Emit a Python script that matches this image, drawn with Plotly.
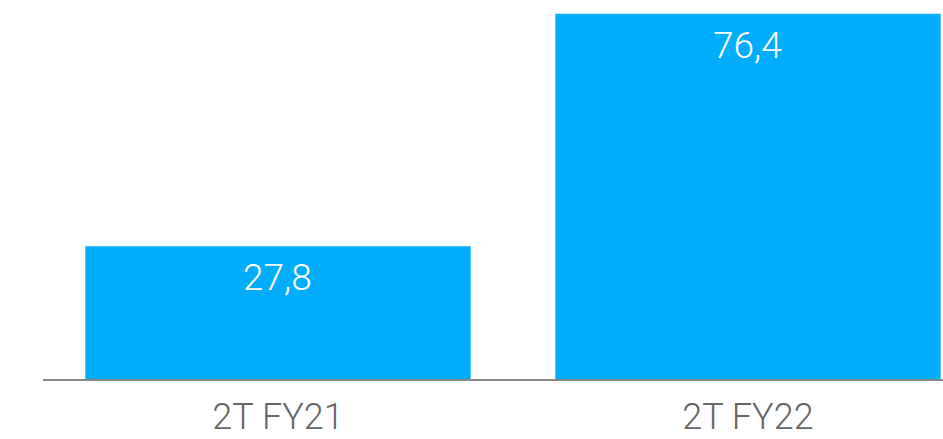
import plotly.graph_objects as go

periods = ["2T FY21", "2T FY22"]
values = [27.8, 76.4]
value_labels = ["27,8", "76,4"]

fig = go.Figure(go.Bar(
    x=periods, y=values,
    marker=dict(color="#02ADFC", line=dict(width=0)),
    hoverinfo="skip",
))

# value labels sit inside the top of each bar
for p, v, lab in zip(periods, values, value_labels):
    fig.add_annotation(x=p, y=v, text=lab, showarrow=False,
                       yanchor="top", yshift=-8,
                       font=dict(family="Roboto", size=37, color="white", weight=300))

fig.update_layout(
    width=943, height=439,
    margin=dict(l=43, r=0, t=0, b=60),
    paper_bgcolor="white", plot_bgcolor="white",
    bargap=0.18,
    showlegend=False,
    font=dict(family="Roboto"),
)
fig.update_xaxes(
    range=[-0.5, 1.415],
    showline=True, linecolor="#888888", linewidth=2,
    showgrid=False, ticks="", ticklabelstandoff=5,
    tickfont=dict(family="Roboto", size=36, color="#666666", weight=300),
)
fig.update_yaxes(range=[0, 79.3], visible=False, showgrid=False, zeroline=False)

# drop the default page margin so the figure fills the window
fig.write_html("out.html", config={"displayModeBar": False},
               post_script="document.body.style.margin='0';")
